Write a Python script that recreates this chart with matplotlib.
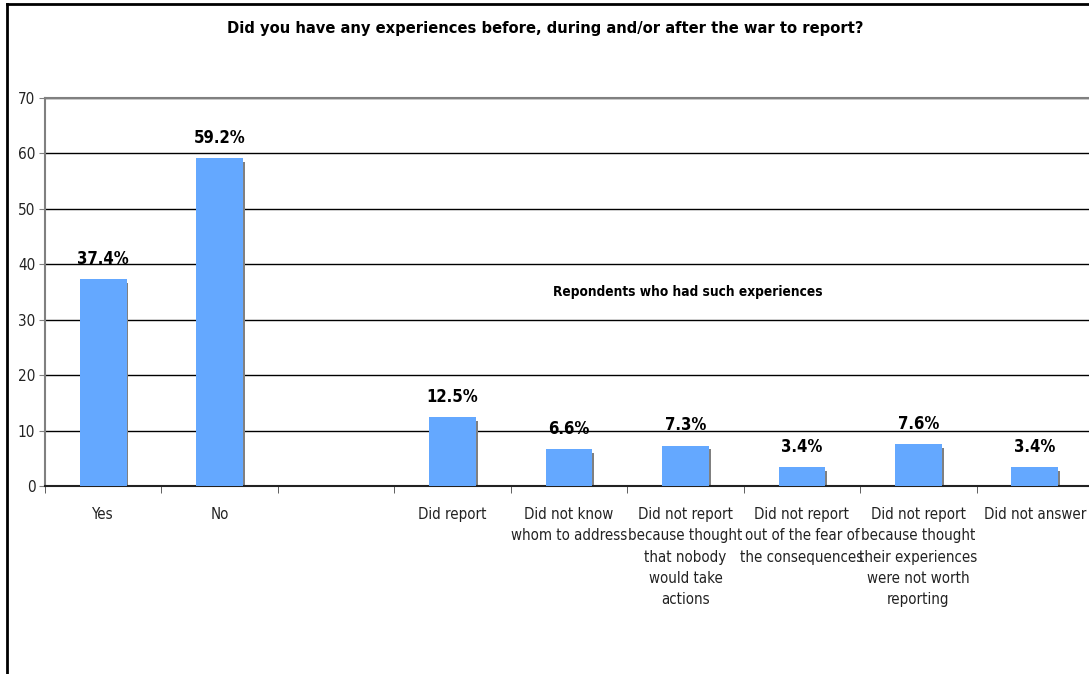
import numpy as np
import matplotlib
matplotlib.use("Agg")
import matplotlib.pyplot as plt
from matplotlib.lines import Line2D

# data
categories = [
    "Yes",
    "No",
    "",
    "Did report",
    "Did not know\nwhom to address",
    "Did not report\nbecause thought\nthat nobody\nwould take\nactions",
    "Did not report\nout of the fear of\nthe consequences",
    "Did not report\nbecause thought\ntheir experiences\nwere not worth\nreporting",
    "Did not answer",
]
values = [37.4, 59.2, 0, 12.5, 6.6, 7.3, 3.4, 7.6, 3.4]
labels = ["37.4%", "59.2%", "", "12.5%", "6.6%", "7.3%", "3.4%", "7.6%", "3.4%"]
yticks = [0, 10, 20, 30, 40, 50, 60, 70]

title = "Did you have any experiences before, during and/or after the war to report?"
note = "Repondents who had such experiences"

bar_color = "#64a8ff"
shadow_color = "#808080"

plt.rcParams["font.family"] = ["DejaVu Sans"]
plt.rcParams["font.stretch"] = "condensed"

fig = plt.figure(figsize=(10.89, 6.74), dpi=100)
ax = fig.add_axes([45 / 1089, 1 - 486 / 674, 1048 / 1089, 388 / 674])

x = np.arange(len(categories))
w = 0.40

# shadow first, then the bar on top
ax.bar(x + 0.017, np.array(values) - 0.7, width=w, color=shadow_color, zorder=2)
ax.bar(x, values, width=w, color=bar_color, zorder=3)

for xi, v, lab in zip(x, values, labels):
    if lab:
        ax.text(xi, v + 2.0, lab, ha="center", va="bottom", fontsize=12,
                fontweight="bold", color="black")

ax.text(5.02, 35, note, ha="center", va="center", fontsize=9.8, fontweight="bold")

ax.set_xlim(-0.5, len(categories) - 0.5)
ax.set_ylim(0, 70)
ax.set_yticks(yticks)
ax.set_yticklabels([str(t) for t in yticks], fontsize=11, color="#222222")

ax.set_xticks(x)
ax.set_xticklabels(categories, fontsize=10.8, color="#222222", linespacing=1.53, va="top")
ax.set_xticks(np.arange(len(categories) + 1) - 0.5, minor=True)
ax.tick_params(axis="x", which="major", length=0, pad=15)
ax.tick_params(axis="x", which="minor", length=5, color="#444444", direction="out")
ax.tick_params(axis="y", length=4, color="#808080", direction="out", pad=3)

ax.yaxis.grid(True, color="black", linewidth=1)
ax.set_axisbelow(True)

ax.spines["right"].set_visible(False)
ax.spines["top"].set_color("#808080")
ax.spines["top"].set_linewidth(1.5)
ax.spines["left"].set_color("#808080")
ax.spines["left"].set_linewidth(1.5)
ax.spines["bottom"].set_color("#222222")
ax.spines["bottom"].set_linewidth(1.5)

fig.text(0.501, 1 - 28 / 674, title, ha="center", va="center", fontsize=11.8,
         fontweight="bold")

# outer chart border (partially cut off in the original)
bx = 7 / 1089
by = 1 - 4 / 674
fig.add_artist(Line2D([bx, bx], [0, by], transform=fig.transFigure, color="black", lw=2))
fig.add_artist(Line2D([bx, 1], [by, by], transform=fig.transFigure, color="black", lw=2))

fig.savefig("out.png", dpi=100)
